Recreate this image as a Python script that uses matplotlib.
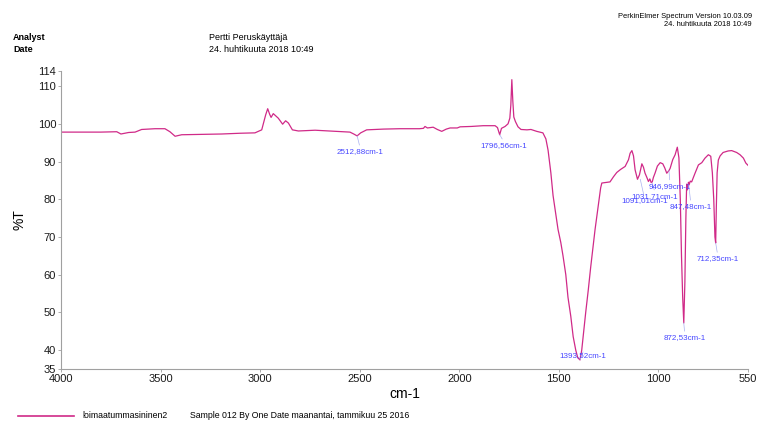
import numpy as np
import matplotlib.pyplot as plt
from matplotlib.lines import Line2D

plt.rcParams['font.family'] = ['Liberation Sans', 'DejaVu Sans']

# spectrum (cm-1, %T)
wavenumber = [4000, 3900, 3800, 3720, 3699, 3660, 3628, 3595, 3528, 3478, 3453, 3427, 3394,
              3300, 3193, 3100, 3026, 2992, 2972, 2962, 2952, 2945, 2934, 2909, 2887, 2872,
              2858, 2838, 2808, 2724, 2650, 2549, 2530, 2513, 2495, 2465, 2380, 2297, 2200,
              2180, 2172, 2160, 2131, 2110, 2088, 2065, 2046, 2010, 1996, 1940, 1880, 1820,
              1808, 1797, 1788, 1770, 1755, 1746, 1741, 1736, 1731, 1726, 1718, 1705, 1690,
              1660, 1640, 1611, 1595, 1580, 1565, 1554, 1540, 1529, 1515, 1504, 1490, 1479,
              1465, 1454, 1440, 1428, 1415, 1405, 1393.5, 1385, 1375, 1365, 1352, 1340, 1330,
              1318, 1308, 1298, 1290, 1284, 1270, 1255, 1243, 1225, 1209, 1190, 1167, 1150,
              1142, 1133, 1125, 1117, 1105, 1095, 1083, 1075, 1067, 1058, 1050, 1043, 1036,
              1031, 1025, 1017, 1005, 991, 978, 968, 958, 947, 941, 928, 916, 905, 897, 890,
              884, 878, 872.5, 867, 862, 858, 854, 849, 846, 840, 833, 816, 799, 782, 766,
              749, 737, 729, 722, 716, 712.3, 709, 705, 699, 690, 675, 650, 632, 607, 590,
              573, 561, 550]
transmittance = [97.8, 97.8, 97.8, 97.9, 97.3, 97.7, 97.8, 98.5, 98.7, 98.7, 97.9, 96.7, 97.1,
                 97.2, 97.3, 97.5, 97.6, 98.4, 102.4, 104.0, 102.5, 101.7, 102.7, 101.5, 99.9, 100.8,
                 100.2, 98.4, 98.1, 98.3, 98.1, 97.8, 97.3, 96.8, 97.6, 98.4, 98.6, 98.7, 98.7,
                 98.8, 99.3, 98.9, 99.1, 98.5, 98.0, 98.6, 98.9, 98.9, 99.2, 99.3, 99.5, 99.5,
                 99.0, 97.1, 98.8, 99.3, 100.0, 101.5, 105.0, 111.7, 106.0, 101.8, 100.6, 99.2, 98.5,
                 98.4, 98.5, 98.0, 97.8, 97.6, 96.0, 93.0, 87.0, 81.0, 76.0, 72.0, 68.5, 65.0,
                 60.0, 54.0, 49.0, 43.6, 40.0, 38.0, 37.4, 40.0, 45.0, 50.0, 56.0, 62.0, 66.5,
                 72.0, 76.0, 80.0, 83.0, 84.3, 84.4, 84.5, 84.6, 86.0, 87.1, 87.9, 88.7, 90.5,
                 92.2, 92.9, 91.5, 87.8, 85.3, 86.5, 89.4, 88.5, 86.9, 85.8, 84.7, 85.4, 84.4,
                 84.6, 85.8, 86.9, 88.8, 89.7, 89.4, 88.3, 86.9, 87.6, 88.2, 90.5, 91.8, 93.8, 91.0, 80.0,
                 65.0, 54.0, 47.2, 58.0, 75.0, 84.0, 82.5, 84.5, 83.8, 84.8, 84.6, 86.9, 89.1, 89.7, 90.9,
                 91.8, 91.4, 87.0, 80.0, 70.0, 68.4, 78.0, 87.0, 90.4, 91.5, 92.4, 92.8, 92.9, 92.4, 91.8,
                 90.9, 89.6, 89.0]

# labelled minima
peak_wn = [2512.88, 1796.56, 1393.52, 1091.01, 1031.71, 946.99, 847.48, 872.53, 712.35]
peak_t = [96.8, 97.1, 37.4, 85.3, 84.4, 87.6, 83.8, 47.2, 68.4]
peak_labels = ["2512,88cm-1", "1796,56cm-1", "1393,52cm-1", "1091,01cm-1", "1031,71cm-1",
               "946,99cm-1", "847,48cm-1", "872,53cm-1", "712,35cm-1"]
label_offsets = [(3, -12), (4, -7), (3, 8), (4, -18), (3, -10), (1, -12), (2, -18), (1, -11), (2, -12)]

xticks = [4000, 3500, 3000, 2500, 2000, 1500, 1000, 550]
yticks = [35, 40, 50, 60, 70, 80, 90, 100, 110, 114]

W, H = 764, 421
line_col = '#d02a88'
lab_col = '#4646ff'
axis_col = '#a0a0a0'

fig = plt.figure(figsize=(W / 100, H / 100), dpi=100)
ax = fig.add_axes([61 / W, 1 - 369 / H, (748 - 61) / W, (369 - 71) / H])
ax.plot(wavenumber, transmittance, color=line_col, lw=0.9)
ax.set_xlim(4000, 550)
ax.set_ylim(35, 114)
ax.set_xticks(xticks)
ax.set_yticks(yticks)
for s in ['top', 'right']:
    ax.spines[s].set_visible(False)
for s in ['left', 'bottom']:
    ax.spines[s].set_color(axis_col)
    ax.spines[s].set_linewidth(0.8)
ax.tick_params(direction='out', length=2.5, width=0.6, color=axis_col, labelsize=8,
               labelcolor='#1a1a1a', pad=1)
ax.set_xlabel("cm-1", fontsize=10, labelpad=2)
ax.set_ylabel("%T", fontsize=10, labelpad=8)

for wn, t, lab, off in zip(peak_wn, peak_t, peak_labels, label_offsets):
    ax.annotate(lab, xy=(wn, t), xytext=off, textcoords='offset pixels',
                ha='center', va='top', fontsize=5.8, color=lab_col,
                arrowprops=dict(arrowstyle='-', color='#a8b0f0', lw=0.5,
                                shrinkA=0, shrinkB=0, relpos=(0.5, 1)))

# header
fig.text(13 / W, 1 - 37 / H, "Analyst", fontsize=6.5, fontweight='bold', va='center')
fig.text(13 / W, 1 - 50 / H, "Date", fontsize=6.5, fontweight='bold', va='center')
fig.text(209 / W, 1 - 37 / H, "Pertti Peruskäyttäjä", fontsize=6.5, va='center')
fig.text(209 / W, 1 - 50 / H, "24. huhtikuuta 2018 10:49", fontsize=6.5, va='center')
fig.text(752 / W, 1 - 16 / H, "PerkinElmer Spectrum Version 10.03.09", fontsize=5.4,
         va='center', ha='right')
fig.text(752 / W, 1 - 25 / H, "24. huhtikuuta 2018 10:49", fontsize=5.4, va='center', ha='right')

# legend
fig.add_artist(Line2D([18 / W, 74 / W], [1 - 416 / H, 1 - 416 / H], color=line_col, lw=1.2))
fig.text(82 / W, 1 - 415 / H, "loimaatummasininen2", fontsize=6.3, va='center')
fig.text(190 / W, 1 - 415 / H, "Sample 012 By One Date maanantai, tammikuu 25 2016",
         fontsize=6.3, va='center')

fig.savefig("out.png", dpi=100)
